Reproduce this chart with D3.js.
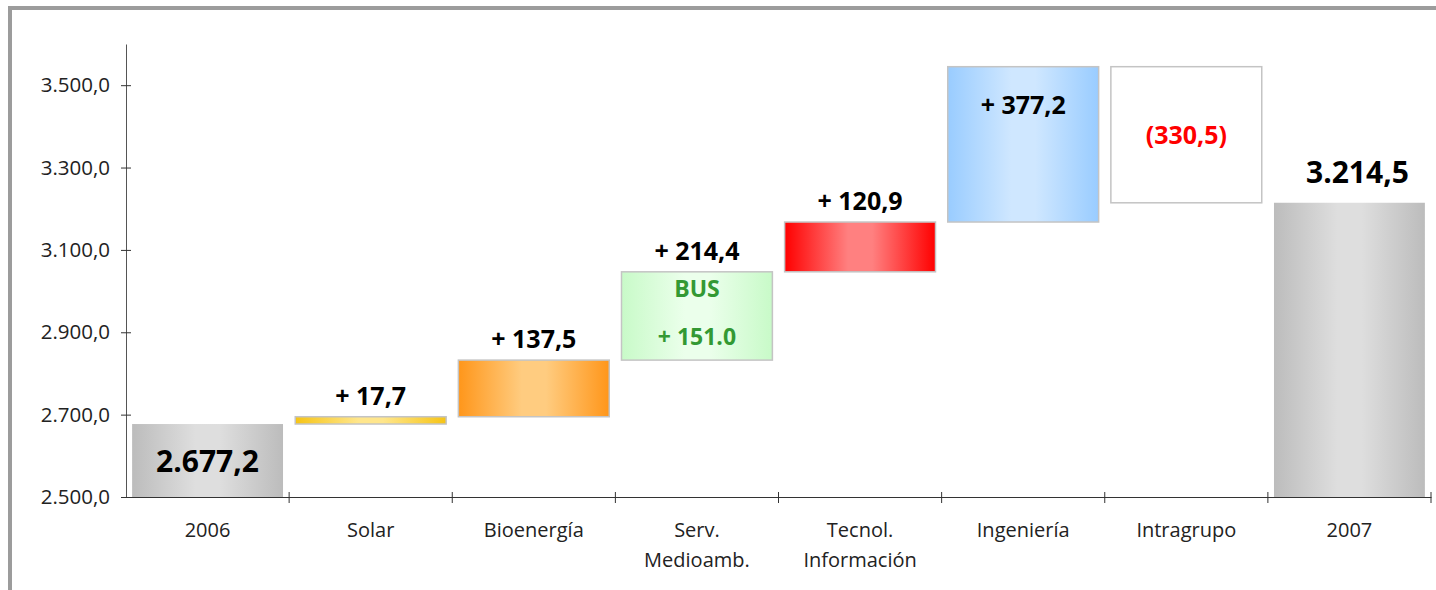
<!DOCTYPE html>
<html>
<head>
<meta charset="utf-8">
<script src="https://cdn.jsdelivr.net/npm/d3@7"></script>
<style>
body { margin: 0; background: #fff; overflow: hidden; }
svg { display: block; }
text { font-family: "Open Sans", sans-serif; }
</style>
</head>
<body>
<div class="waterfall"></div>
<script>
// data
const categories = ['2006', 'Solar', 'Bioenergía', 'Serv. Medioamb.', 'Tecnol. Información', 'Ingeniería', 'Intragrupo', '2007'];
const values = [2677.2, 17.7, 137.5, 214.4, 120.9, 377.2, -330.5, 3214.5];
const kinds = ['total', 'delta', 'delta', 'delta', 'delta', 'delta', 'delta', 'total'];
const busLabel = 'BUS';
const busValue = 151.0;
const yTicks = [2500, 2700, 2900, 3100, 3300, 3500];

const W = 1436, H = 590;

const es = d3.formatLocale({decimal: ',', thousands: '.', grouping: [3], currency: ['', '€']});
const fmt = es.format(',.1f');

// colours: [edge, centre] of the horizontal gradient
const fills = {
    '2006': ['#bcbcbc', '#dedede'],
    'Solar': ['#f6c415', '#ffe68c'],
    'Bioenergía': ['#ff961a', '#ffcc80'],
    'Serv. Medioamb.': ['#c8fac8', '#ebffeb'],
    'Tecnol. Información': ['#ff0000', '#ff8080'],
    'Ingeniería': ['#99ccff', '#cfe7ff'],
    'Intragrupo': ['#ffffff', '#ffffff'],
    '2007': ['#bcbcbc', '#dedede']
};

const svg = d3.select('.waterfall').append('svg')
    .attr('width', W)
    .attr('height', H);

// outer frame, only the top and left edges fall inside the window
svg.append('path')
    .attr('d', 'M10,' + (H + 20) + 'V8H' + (W + 20))
    .attr('fill', 'none')
    .attr('stroke', '#9c9c9c')
    .attr('stroke-width', 4);

const x = d3.scaleBand()
    .domain(categories)
    .range([126, 1431])
    .paddingInner(0.075)
    .paddingOuter(0.0375);

const y = d3.scaleLinear()
    .domain([2500, 3600])
    .range([497, 44]);

// running totals
let run = 0;
const bars = categories.map((c, i) => {
    let start, end;
    if (kinds[i] === 'total') {
        start = y.domain()[0];
        end = values[i];
        run = values[i];
    } else {
        start = run;
        end = run + values[i];
        run = end;
    }
    return {cat: c, value: values[i], kind: kinds[i], start: start, end: end, i: i};
});

const defs = svg.append('defs');
categories.forEach((c, i) => {
    const g = defs.append('linearGradient')
        .attr('id', 'grad' + i)
        .attr('x1', '0%').attr('x2', '100%')
        .attr('y1', '0%').attr('y2', '0%');
    g.append('stop').attr('offset', '0%').attr('stop-color', fills[c][0]);
    g.append('stop').attr('offset', '42%').attr('stop-color', fills[c][1]);
    g.append('stop').attr('offset', '58%').attr('stop-color', fills[c][1]);
    g.append('stop').attr('offset', '100%').attr('stop-color', fills[c][0]);
});

// bars
svg.append('g').selectAll('rect')
    .data(bars)
    .join('rect')
    .attr('x', d => x(d.cat))
    .attr('width', x.bandwidth())
    .attr('y', d => y(Math.max(d.start, d.end)))
    .attr('height', d => Math.abs(y(d.start) - y(d.end)))
    .attr('fill', d => 'url(#grad' + d.i + ')')
    .attr('stroke', d => d.kind === 'total' ? 'none' : '#c4c4c4')
    .attr('stroke-width', 1.5);

// y axis
svg.append('g')
    .attr('transform', 'translate(126,0)')
    .call(d3.axisLeft(y).tickValues(yTicks).tickFormat(fmt).tickSizeInner(5).tickSizeOuter(0).tickPadding(11))
    .call(g => g.select('.domain').attr('stroke', '#555'))
    .call(g => g.selectAll('.tick line').attr('x1', 5).attr('stroke', '#333'))
    .call(g => g.selectAll('.tick text').attr('font-size', 20.5).attr('fill', '#222')
        .style('font-family', '"Open Sans", sans-serif'));

// x axis
svg.append('g')
    .attr('transform', 'translate(0,497)')
    .call(d3.axisBottom(x).tickSize(0).tickSizeOuter(0))
    .call(g => g.select('.domain').attr('stroke', '#333'))
    .call(g => g.selectAll('.tick text').each(function(d) {
        const t = d3.select(this);
        t.text(null).attr('dy', null).attr('font-size', 20).attr('fill', '#222')
            .style('font-family', '"Open Sans", sans-serif');
        d.split(' ').forEach((w, k) => {
            t.append('tspan').attr('x', 0).attr('y', 40 + k * 30).text(w);
        });
    }));

// tick marks on category boundaries
const gap = (x.step() - x.bandwidth()) / 2;
const bounds = categories.map(c => x(c) - gap).concat([x(categories[categories.length - 1]) + x.bandwidth() + gap]);
svg.append('g').selectAll('line')
    .data(bounds.slice(1))
    .join('line')
    .attr('x1', d => d).attr('x2', d => d)
    .attr('y1', 492).attr('y2', 503)
    .attr('stroke', '#333');

// value labels
const labelText = d => {
    if (d.kind === 'total') return fmt(d.value);
    if (d.value < 0) return '(' + fmt(-d.value) + ')';
    return '+ ' + fmt(d.value);
};

svg.append('g').selectAll('text')
    .data(bars)
    .join('text')
    .attr('text-anchor', 'middle')
    .attr('font-weight', 700)
    .attr('x', d => x(d.cat) + x.bandwidth() / 2 + (d.kind === 'total' && d.i > 0 ? 8 : 0))
    .attr('font-size', d => d.kind === 'total' ? 30 : 25)
    .attr('fill', d => d.value < 0 ? '#ff0000' : '#000')
    .attr('y', d => {
        const top = y(Math.max(d.start, d.end));
        const bot = y(Math.min(d.start, d.end));
        if (d.i === 0) return (top + bot) / 2 + 11;
        if (d.value < 0) return (top + bot) / 2 + 9;
        if (d.cat === 'Ingeniería') return top + 47;
        if (d.kind === 'total') return top - 20;
        return top - 12;
    })
    .text(labelText);

// BUS annotation inside the Serv. Medioamb. bar
const bus = bars[categories.indexOf('Serv. Medioamb.')];
const busTop = y(bus.end);
svg.append('text')
    .attr('x', x(bus.cat) + x.bandwidth() / 2)
    .attr('y', busTop + 25)
    .attr('text-anchor', 'middle')
    .attr('font-weight', 700)
    .attr('font-size', 23)
    .attr('fill', '#339933')
    .text(busLabel);
svg.append('text')
    .attr('x', x(bus.cat) + x.bandwidth() / 2)
    .attr('y', busTop + 73)
    .attr('text-anchor', 'middle')
    .attr('font-weight', 700)
    .attr('font-size', 23)
    .attr('fill', '#339933')
    .text('+ ' + busValue.toFixed(1));
</script>
</body>
</html>
